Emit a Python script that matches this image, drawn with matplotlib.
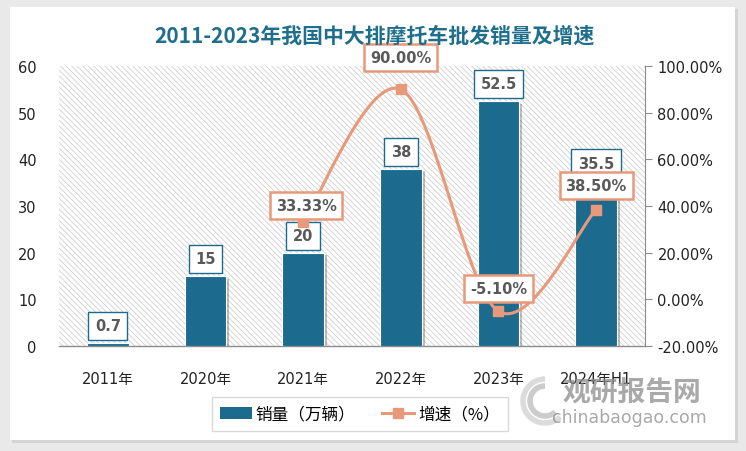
import numpy as np
import matplotlib
matplotlib.use("Agg")
import matplotlib.pyplot as plt
from matplotlib.patches import Rectangle, Arc
from matplotlib.lines import Line2D
import matplotlib.patheffects as pe

plt.rcParams['font.family'] = ['DejaVu Sans', 'Noto Sans CJK SC']
plt.rcParams['hatch.linewidth'] = 0.6

# data
years = ['2011年', '2020年', '2021年', '2022年', '2023年', '2024年H1']
sales = [0.7, 15, 20, 38, 52.5, 35.5]            # 万辆
growth_idx = [2, 3, 4, 5]                          # categories that have a growth value
growth = [33.33, 90.00, -5.10, 38.50]              # %

bar_color = '#1c6b8f'
line_color = '#e8997a'
label_gray = '#595959'

fig = plt.figure(figsize=(7.46, 4.52), dpi=100)
fig.patch.set_facecolor('#e9e9e9')
# white panel with soft shadow
fig.patches.append(Rectangle((12 / 746, 1 - 444 / 452), 726 / 746, 434 / 452,
                             transform=fig.transFigure, facecolor='#d4d4d4',
                             edgecolor='none', zorder=-2))
fig.patches.append(Rectangle((10 / 746, 1 - 441 / 452), 725 / 746, 433 / 452,
                             transform=fig.transFigure, facecolor='white',
                             edgecolor='none', zorder=-1))

ax = fig.add_axes([59 / 746, 1 - 347 / 452, 586 / 746, 280 / 452])
ax.patch.set_facecolor('white')
ax.patch.set_hatch('\\\\\\\\\\\\')
ax.patch.set_edgecolor('#cfcfcf')
ax.patch.set_linewidth(0)

x = np.arange(len(years))
bars = ax.bar(x, sales, width=0.43, color=bar_color, edgecolor='white', linewidth=0.8,
              zorder=3)
for b in bars:
    b.set_path_effects([pe.SimplePatchShadow(offset=(2, -2), shadow_rgbFace='#000000',
                                             alpha=0.25), pe.Normal()])

ax.set_xlim(-0.5, len(years) - 0.5)
ax.set_ylim(0, 60)
ax.set_yticks(np.arange(0, 61, 10))
ax.set_xticks(x)
ax.set_xticklabels(years)
ax.tick_params(axis='y', length=0, labelsize=10.5, colors='#222222', pad=16)
ax.tick_params(axis='x', length=0, labelsize=10.5, colors='#222222', pad=18)
for s in ['left', 'right', 'top']:
    ax.spines[s].set_visible(False)
ax.spines['bottom'].set_color('#8c8c8c')
ax.spines['bottom'].set_linewidth(1)

for xi, v in zip(x, sales):
    ax.annotate(f'{v:g}', (xi, v), xytext=(0, 17), textcoords='offset pixels',
                ha='center', va='center', fontsize=10.5, fontweight='bold',
                color=label_gray, zorder=5,
                bbox=dict(boxstyle='square,pad=0.45', fc='white', ec=bar_color, lw=1))

# growth line, smoothed like a spreadsheet "smooth line"
ax2 = ax.twinx()
ax2.set_ylim(-20, 100)
ax2.set_yticks(np.arange(-20, 101, 20))
ax2.set_yticklabels([f'{t:.2f}%' for t in np.arange(-20, 101, 20)])
ax2.tick_params(axis='y', length=5, direction='out', color='#8c8c8c',
                labelsize=10.5, labelcolor='#222222', pad=4)
for s in ['left', 'top', 'bottom']:
    ax2.spines[s].set_visible(False)
ax2.spines['right'].set_color('#8c8c8c')

px = np.array(growth_idx, dtype=float)
py = np.array(growth, dtype=float)
cx, cy = [], []
n = len(px)
t = np.linspace(0, 1, 40)
for i in range(n - 1):
    p0 = np.array([px[max(i - 1, 0)], py[max(i - 1, 0)]])
    p1 = np.array([px[i], py[i]])
    p2 = np.array([px[i + 1], py[i + 1]])
    p3 = np.array([px[min(i + 2, n - 1)], py[min(i + 2, n - 1)]])
    c1 = p1 + (p2 - p0) / 6
    c2 = p2 - (p3 - p1) / 6
    seg = ((1 - t) ** 3)[:, None] * p1 + (3 * (1 - t) ** 2 * t)[:, None] * c1 \
        + (3 * (1 - t) * t ** 2)[:, None] * c2 + (t ** 3)[:, None] * p2
    cx.extend(seg[:, 0])
    cy.extend(seg[:, 1])
ax2.plot(cx, cy, color=line_color, lw=2.2, zorder=4, solid_capstyle='round')
ax2.plot(px, py, linestyle='none', marker='s', markersize=7, color=line_color, zorder=5)

offsets = [(3, 16), (0, 32), (0, 23), (0, 24)]
for xi, v, off in zip(px, py, offsets):
    ax2.annotate(f'{v:.2f}%', (xi, v), xytext=off, textcoords='offset pixels',
                 ha='center', va='center', fontsize=10.5, fontweight='bold',
                 color=label_gray, zorder=6,
                 bbox=dict(boxstyle='square,pad=0.4', fc='white', ec=line_color, lw=1.8))

fig.text(374 / 746, 1 - 36 / 452, '2011-2023年我国中大排摩托车批发销量及增速',
         ha='center', va='center', fontsize=15, fontweight='bold', color='#1f6e8c',
         family=['Noto Sans CJK SC'])

handles = [Rectangle((0, 0), 1, 1, fc=bar_color),
           Line2D([0], [0], color=line_color, lw=2.2, marker='s', markersize=7)]
fig.legend(handles, ['销量（万辆）', '增速（%）'], loc='center',
           bbox_to_anchor=(360 / 746, 1 - 415 / 452), ncol=2, frameon=True,
           fancybox=False, edgecolor='#d0d0d0', handlelength=1.9, handletextpad=0.25,
           columnspacing=1.6, borderpad=0.5,
           prop={'family': ['Noto Sans CJK SC'], 'size': 12})

# watermark
fig.text(632 / 746, 1 - 393 / 452, '观研报告网', ha='center', va='center', fontsize=20,
         fontweight='bold', color='#8c8c8c', alpha=0.75, family=['Noto Sans CJK SC'])
fig.text(629 / 746, 1 - 418 / 452, 'chinabaogao.com', ha='center', va='center',
         fontsize=12.5, color='#8c8c8c', alpha=0.75)
for r, a in [(22, 0.35), (15, 0.5)]:
    fig.patches.append(Arc((545 / 746, 1 - 402 / 452), 2 * r / 746, 2 * r / 452,
                           theta1=90, theta2=300, transform=fig.transFigure,
                           color='#9a9a9a', lw=4, alpha=a))

fig.savefig('out.png', dpi=100, facecolor=fig.get_facecolor())
